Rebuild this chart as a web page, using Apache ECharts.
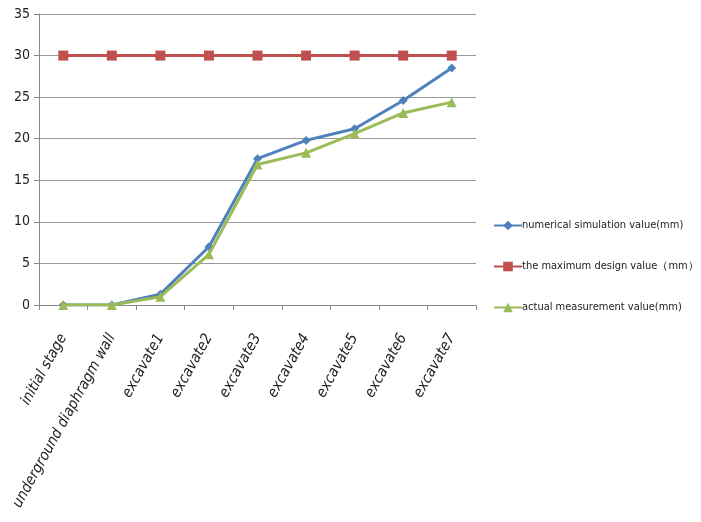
<!DOCTYPE html>
<html>
<head>
<meta charset="utf-8">
<script src="https://cdn.jsdelivr.net/npm/echarts@6/dist/echarts.min.js"></script>
<style>
  html, body { margin: 0; padding: 0; background: #fff; }
  #chart { width: 701px; height: 522px; }
</style>
</head>
<body>
<div id="chart"></div>
<script>
// Stage names along the horizontal axis
var stages = ['initial stage', 'underground diaphragm wall', 'excavate1', 'excavate2',
  'excavate3', 'excavate4', 'excavate5', 'excavate6', 'excavate7'];

// Displacement values (mm) per stage
var simulated = [0, 0, 1.3, 7.0, 17.6, 19.8, 21.2, 24.6, 28.5];
var designMax = [30, 30, 30, 30, 30, 30, 30, 30, 30];
var measured = [0, 0, 1.0, 6.1, 16.9, 18.3, 20.6, 23.1, 24.4];

var seriesNames = ['numerical simulation value(mm)', 'the maximum design value\uFF08mm\uFF09', 'actual measurement value(mm)'];

var font = '"DejaVu Sans Condensed", "Liberation Sans Narrow", sans-serif';

var chart = echarts.init(document.getElementById('chart'));
chart.setOption({
  animation: false,
  backgroundColor: '#fff',
  grid: { left: 39, right: 225, top: 14, bottom: 217 },
  legend: {
    orient: 'vertical',
    left: 488,
    top: 215,
    itemGap: 30,
    itemWidth: 28,
    itemHeight: 12,
    textStyle: { fontFamily: font, fontSize: 11, color: '#222', padding: [0, 0, 0, -5] },
    data: seriesNames
  },
  xAxis: {
    type: 'category',
    data: stages,
    boundaryGap: true,
    axisLine: { lineStyle: { color: '#888', width: 1 } },
    axisTick: { show: true, length: 5, lineStyle: { color: '#888' } },
    axisLabel: {
      rotate: 61,
      fontStyle: 'italic',
      fontFamily: font,
      fontSize: 15,
      color: '#222',
      margin: 30
    }
  },
  yAxis: {
    type: 'value',
    min: 0,
    max: 35,
    interval: 5,
    axisLine: { show: true, lineStyle: { color: '#888', width: 1 } },
    axisTick: { show: true, length: 5, lineStyle: { color: '#888' } },
    axisLabel: { fontFamily: font, fontSize: 14, color: '#222', margin: 9 },
    splitLine: { lineStyle: { color: '#999', width: 1 } }
  },
  series: [
    {
      name: seriesNames[0],
      type: 'line',
      data: simulated,
      symbol: 'diamond',
      symbolSize: 9,
      lineStyle: { width: 3, color: '#4F81BD' },
      itemStyle: { color: '#4F81BD' },
      z: 3
    },
    {
      name: seriesNames[1],
      type: 'line',
      data: designMax,
      symbol: 'rect',
      symbolSize: 10,
      lineStyle: { width: 3, color: '#C0504D' },
      itemStyle: { color: '#C0504D' },
      z: 2
    },
    {
      name: seriesNames[2],
      type: 'line',
      data: measured,
      symbol: 'triangle',
      symbolSize: 10,
      lineStyle: { width: 3, color: '#9BBB59' },
      itemStyle: { color: '#9BBB59' },
      z: 4
    }
  ]
});
</script>
</body>
</html>
